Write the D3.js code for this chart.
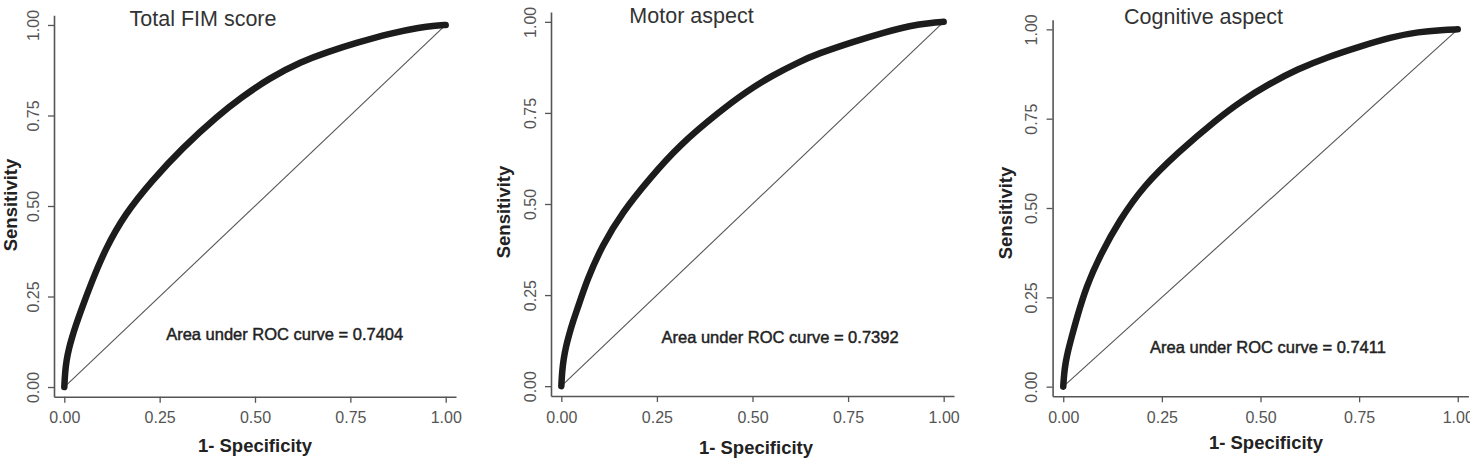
<!DOCTYPE html>
<html>
<head>
<meta charset="utf-8">
<script src="https://cdn.jsdelivr.net/npm/d3@7"></script>
<style>
  html, body { margin: 0; padding: 0; background: #fff; }
  svg { display: block; font-family: "Liberation Sans", Arial, sans-serif; }
</style>
</head>
<body>
<svg id="chart" width="1470" height="458"></svg>
<script>
// ---- Data ----
const titles = ["Total FIM score", "Motor aspect", "Cognitive aspect"];
const aucLabels = ["Area under ROC curve = 0.7404", "Area under ROC curve = 0.7392", "Area under ROC curve = 0.7411"];
const tickValues = [0, 0.25, 0.5, 0.75, 1];
const xLabel = "1- Specificity";
const yLabel = "Sensitivity";

const fprTotal = [0, 0.002, 0.006, 0.012, 0.020, 0.030, 0.045, 0.072, 0.107, 0.159, 0.229, 0.308, 0.404, 0.465, 0.535, 0.622, 0.689, 0.767, 0.855, 0.934, 0.975, 1];
const tprTotal = [0, 0.040, 0.075, 0.106, 0.136, 0.170, 0.215, 0.291, 0.380, 0.478, 0.569, 0.659, 0.751, 0.800, 0.852, 0.899, 0.925, 0.951, 0.977, 0.994, 0.998, 1];

const fprMotor = [0, 0.002, 0.006, 0.012, 0.020, 0.030, 0.043, 0.068, 0.107, 0.160, 0.230, 0.308, 0.413, 0.483, 0.552, 0.622, 0.669, 0.765, 0.844, 0.914, 0.965, 1];
const tprMotor = [0, 0.040, 0.075, 0.108, 0.140, 0.176, 0.215, 0.294, 0.386, 0.478, 0.569, 0.661, 0.753, 0.808, 0.853, 0.890, 0.912, 0.946, 0.971, 0.990, 0.997, 1];

const fprCog = [0, 0.002, 0.006, 0.012, 0.022, 0.033, 0.058, 0.096, 0.143, 0.202, 0.290, 0.390, 0.455, 0.520, 0.594, 0.672, 0.749, 0.834, 0.901, 0.960, 1];
const tprCog = [0, 0.035, 0.068, 0.100, 0.142, 0.187, 0.280, 0.373, 0.466, 0.560, 0.655, 0.749, 0.802, 0.846, 0.889, 0.923, 0.951, 0.979, 0.993, 0.998, 1];

const seriesFpr = [fprTotal, fprMotor, fprCog];
const seriesTpr = [tprTotal, tprMotor, tprCog];

// ---- Layout (pixel geometry of each panel) ----
const panels = [
  { x0: 54, x1: 456, y0: 396.8, y1: 15.2, title: [203, 19], xlab: [255, 445], ylab: [10, 205], ann: [0.267, 0.146] },
  { x0: 551, x1: 954, y0: 396, y1: 12, title: [691.5, 16], xlab: [756, 447], ylab: [503, 212], ann: [0.262, 0.134] },
  { x0: 1052.6, x1: 1468.4, y0: 396.3, y1: 19.7, title: [1203.5, 17], xlab: [1266, 442], ylab: [1005, 213], ann: [0.220, 0.111] }
];
const pad = 0.027;

const svg = d3.select("#chart");
const axisColor = "#555";
const textGrey = "#555";

panels.forEach((p, i) => {
  const x = d3.scaleLinear().domain([-pad, 1 + pad]).range([p.x0, p.x1]);
  const y = d3.scaleLinear().domain([-pad, 1 + pad]).range([p.y0, p.y1]);
  const g = svg.append("g");

  // diagonal reference line
  g.append("line")
    .attr("x1", x(0)).attr("y1", y(0))
    .attr("x2", x(1)).attr("y2", y(1))
    .attr("stroke", "#555").attr("stroke-width", 1.1);

  // ROC curve
  const pts = seriesFpr[i].map((v, k) => [v, seriesTpr[i][k]]);
  const line = d3.line().x(d => x(d[0])).y(d => y(d[1])).curve(d3.curveBasis);
  g.append("path")
    .datum(pts)
    .attr("d", line)
    .attr("fill", "none")
    .attr("stroke", "#1c1c1c")
    .attr("stroke-width", 6.5)
    .attr("stroke-linecap", "round")
    .attr("stroke-linejoin", "round");

  // x axis
  const xa = g.append("g")
    .attr("transform", `translate(0,${p.y0})`)
    .call(d3.axisBottom(x).tickValues(tickValues).tickFormat(d3.format(".2f")).tickSize(6).tickSizeOuter(0));
  xa.select(".domain").attr("stroke", axisColor).attr("stroke-width", 1.6);
  xa.selectAll(".tick line").attr("stroke", axisColor).attr("stroke-width", 1.3);
  xa.selectAll(".tick text")
    .attr("y", 21).attr("dy", null)
    .attr("dominant-baseline", "central")
    .attr("fill", textGrey)
    .style("font-size", "16px");

  // y axis
  const ya = g.append("g")
    .attr("transform", `translate(${p.x0},0)`)
    .call(d3.axisLeft(y).tickValues(tickValues).tickFormat(d3.format(".2f")).tickSize(6).tickSizeOuter(0));
  ya.select(".domain").attr("stroke", axisColor).attr("stroke-width", 1.6);
  ya.selectAll(".tick line").attr("stroke", axisColor).attr("stroke-width", 1.3);
  ya.selectAll(".tick text")
    .attr("x", null).attr("dy", null)
    .attr("transform", "translate(-21,0) rotate(-90)")
    .attr("text-anchor", "middle")
    .attr("dominant-baseline", "central")
    .attr("fill", textGrey)
    .style("font-size", "16px");

  // title
  g.append("text")
    .attr("x", p.title[0]).attr("y", p.title[1])
    .attr("text-anchor", "middle").attr("dominant-baseline", "central")
    .attr("fill", "#333")
    .style("font-size", "21.5px")
    .text(titles[i]);

  // x label
  g.append("text")
    .attr("x", p.xlab[0]).attr("y", p.xlab[1])
    .attr("text-anchor", "middle").attr("dominant-baseline", "central")
    .attr("fill", "#222")
    .style("font-size", "18.5px").style("font-weight", "bold")
    .text(xLabel);

  // y label
  g.append("text")
    .attr("transform", `translate(${p.ylab[0]},${p.ylab[1]}) rotate(-90)`)
    .attr("text-anchor", "middle").attr("dominant-baseline", "central")
    .attr("fill", "#222")
    .style("font-size", "18.5px").style("font-weight", "bold")
    .text(yLabel);

  // AUC annotation
  g.append("text")
    .attr("x", x(p.ann[0])).attr("y", y(p.ann[1]))
    .attr("dominant-baseline", "central")
    .attr("fill", "#222").attr("stroke", "#222").attr("stroke-width", 0.45)
    .style("font-size", "16.5px")
    .text(aucLabels[i]);
});
</script>
</body>
</html>
